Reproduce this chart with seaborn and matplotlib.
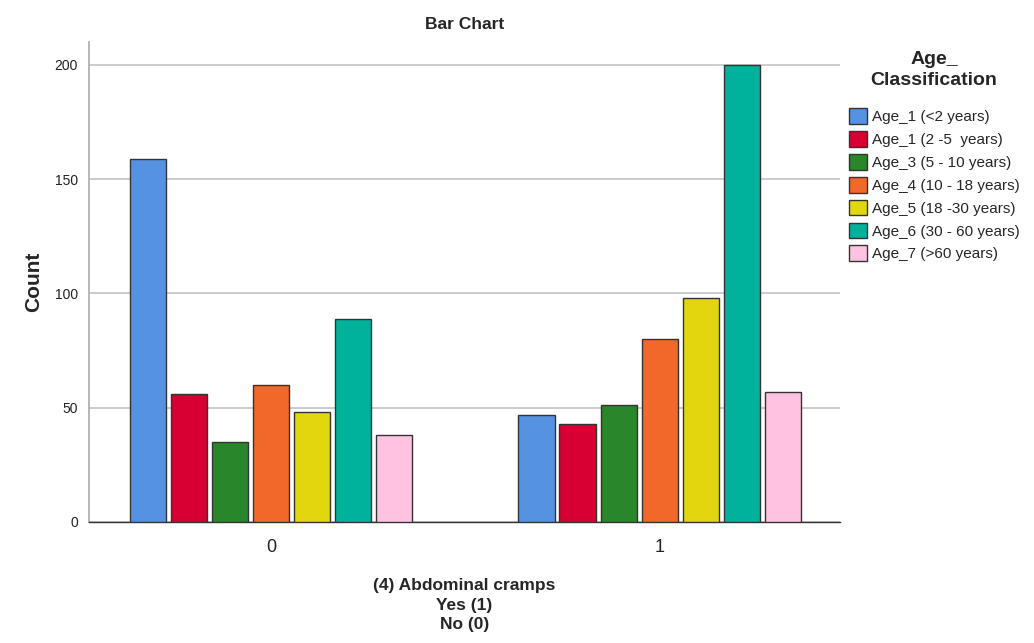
import matplotlib
matplotlib.use("Agg")
import matplotlib.pyplot as plt
import seaborn as sns
import pandas as pd

groups = ["0", "1"]
age_classes = ["Age_1 (<2 years)", "Age_1 (2 -5  years)", "Age_3 (5 - 10 years)",
               "Age_4 (10 - 18 years)", "Age_5 (18 -30 years)", "Age_6 (30 - 60 years)",
               "Age_7 (>60 years)"]
counts_0 = [159, 56, 35, 60, 48, 89, 38]
counts_1 = [47, 43, 51, 80, 98, 200, 57]
colors = ["#5593E2", "#D80032", "#2A862A", "#F2682A", "#E2D70F", "#00B29C", "#FFC2E0"]

rows = []
for g, vals in zip(groups, [counts_0, counts_1]):
    for a, v in zip(age_classes, vals):
        rows.append({"group": g, "age": a, "count": v})
df = pd.DataFrame(rows)

sns.set_style("white")
plt.rcParams['font.family'] = ['Liberation Sans', 'DejaVu Sans']

fig = plt.figure(figsize=(10.34, 6.43), dpi=100)
ax = fig.add_axes([0.0861, 0.1882, 0.7263, 0.7465])

sns.barplot(data=df, x="group", y="count", hue="age", hue_order=age_classes,
            order=groups, palette=colors, saturation=1, width=0.738, gap=0.1,
            edgecolor="#333333", linewidth=1.0, ax=ax, zorder=3, legend=True)

ax.set_xlim(-0.468, 1.463)
ax.set_ylim(0, 210)
ax.set_yticks([0, 50, 100, 150, 200])
ax.yaxis.grid(True, color="#C8C8C8", linewidth=1.3, zorder=0)
ax.set_axisbelow(True)
for s in ["top", "right"]:
    ax.spines[s].set_visible(False)
ax.spines["left"].set_color("#AAAAAA")
ax.spines["left"].set_linewidth(1.2)
ax.spines["bottom"].set_color("#333333")
ax.spines["bottom"].set_linewidth(1.0)
ax.tick_params(axis="y", labelsize=10, length=0, pad=8, labelcolor="#222222")
ax.tick_params(axis="x", labelsize=13, length=0, pad=12, labelcolor="#222222")

ax.set_ylabel("Count", fontsize=15, fontweight="bold", labelpad=8)
ax.set_xlabel("(4) Abdominal cramps\nYes (1)\nNo (0)", fontsize=12.5, fontweight="bold",
              labelpad=16, linespacing=1.4)
ax.set_title("Bar Chart", fontsize=12.5, fontweight="bold", pad=9)

handles, labels = ax.get_legend_handles_labels()
ax.legend_.remove()
leg = fig.legend(handles, labels, title="Age_\nClassification", loc="upper left",
                 bbox_to_anchor=(0.812, 0.935), frameon=False, fontsize=11,
                 title_fontproperties={"weight": "bold", "size": 14},
                 handlelength=1.2, handleheight=1.2, handletextpad=0.3,
                 labelspacing=0.45, borderaxespad=0.2)
leg.get_title().set_multialignment("center")
leg.get_title().set_linespacing(1.3)
leg._legend_box.sep = 14

fig.savefig("out.png", dpi=100)
